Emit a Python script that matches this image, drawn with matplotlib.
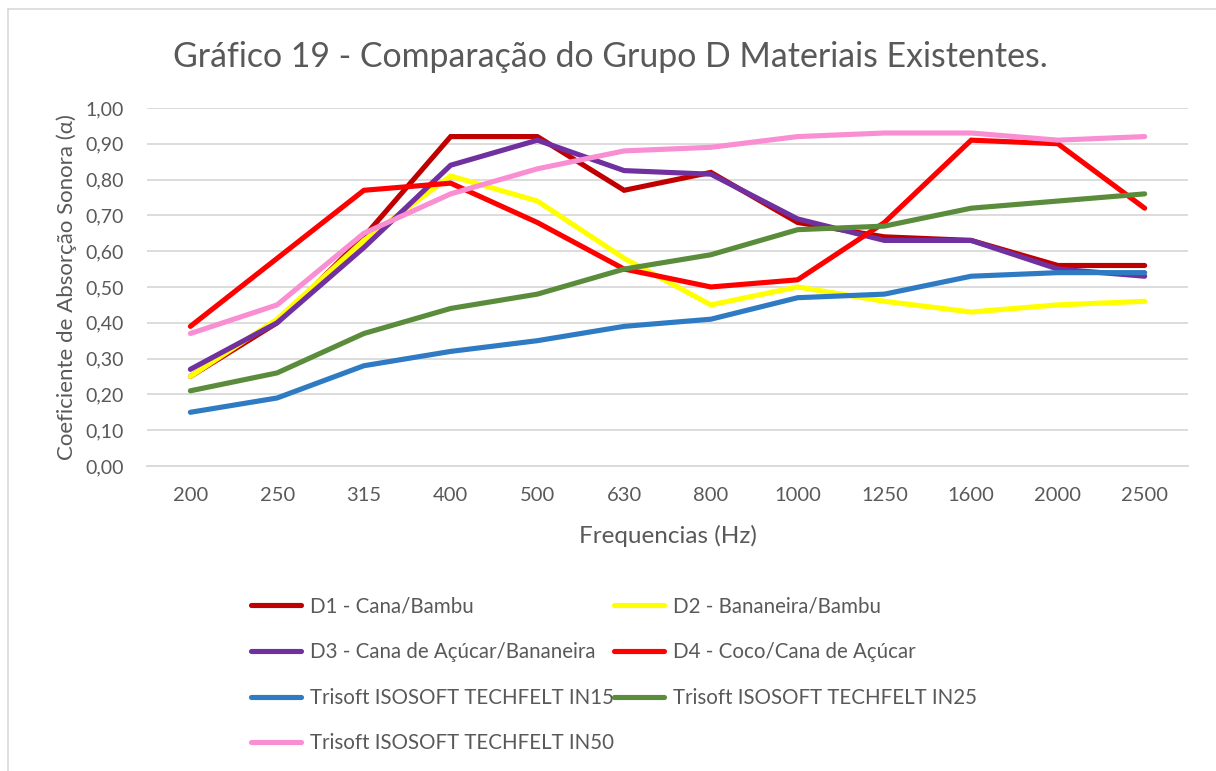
import matplotlib.pyplot as plt
from matplotlib.lines import Line2D

plt.rcParams['font.family'] = ['Lato', 'DejaVu Sans']

freqs = ['200', '250', '315', '400', '500', '630', '800', '1000', '1250', '1600', '2000', '2500']

d1 = [0.25, 0.40, 0.64, 0.92, 0.92, 0.77, 0.82, 0.68, 0.64, 0.63, 0.56, 0.56]
d2 = [0.25, 0.41, 0.63, 0.81, 0.74, 0.58, 0.45, 0.50, 0.46, 0.43, 0.45, 0.46]
d3 = [0.27, 0.40, 0.61, 0.84, 0.91, 0.825, 0.815, 0.69, 0.63, 0.63, 0.55, 0.53]
d4 = [0.39, 0.58, 0.77, 0.79, 0.68, 0.55, 0.50, 0.52, 0.68, 0.91, 0.90, 0.72]
in15 = [0.15, 0.19, 0.28, 0.32, 0.35, 0.39, 0.41, 0.47, 0.48, 0.53, 0.54, 0.54]
in25 = [0.21, 0.26, 0.37, 0.44, 0.48, 0.55, 0.59, 0.66, 0.67, 0.72, 0.74, 0.76]
in50 = [0.37, 0.45, 0.65, 0.76, 0.83, 0.88, 0.89, 0.92, 0.93, 0.93, 0.91, 0.92]

labels = ['D1 - Cana/Bambu', 'D2 - Bananeira/Bambu', 'D3 - Cana de Açúcar/Bananeira',
          'D4 - Coco/Cana de Açúcar', 'Trisoft ISOSOFT TECHFELT IN15',
          'Trisoft ISOSOFT TECHFELT IN25', 'Trisoft ISOSOFT TECHFELT IN50']
colors = ['#C00000', '#FFFF00', '#7030A0', '#FF0000', '#2E7BC4', '#5A8C3C', '#F98ED3']
series = [d1, d2, d3, d4, in15, in25, in50]

txt = '#595959'

fig = plt.figure(figsize=(12.16, 7.71), dpi=100)
ax = fig.add_axes([0.1209, 0.3956, 0.8561, 0.4644])

x = list(range(len(freqs)))
handles = []
for vals, col, lab in zip(series, colors, labels):
    h, = ax.plot(x, vals, color=col, lw=3.7, solid_capstyle='round',
                 solid_joinstyle='miter', label=lab)
    handles.append(h)

ax.set_xlim(-0.5, len(freqs) - 0.5)
ax.set_ylim(0, 1.0)
ax.set_yticks([i / 10 for i in range(11)])
ax.set_yticklabels([f'{i / 10:.2f}'.replace('.', ',') for i in range(11)])
ax.set_xticks(x)
ax.set_xticklabels(freqs)
ax.grid(axis='y', color='#D9D9D9', lw=1.3)
ax.set_axisbelow(True)
for s in ['top', 'right', 'left']:
    ax.spines[s].set_visible(False)
ax.spines['bottom'].set_color('#D9D9D9')
ax.spines['bottom'].set_linewidth(1.3)
ax.tick_params(length=0, labelsize=14.5, labelcolor=txt)
ax.tick_params(axis='x', pad=15)
ax.tick_params(axis='y', pad=17, labelsize=14)

ax.set_xlabel('Frequencias (Hz)', fontsize=17.5, color=txt, labelpad=15)
ax.set_ylabel('Coeficiente de Absorção Sonora (α)', fontsize=16, color=txt, labelpad=6)
fig.text(0.502, 0.926, 'Gráfico 19 - Comparação do Grupo D Materiais Existentes.',
         ha='center', va='center', fontsize=24.4, color=txt)

order = [0, 2, 4, 6, 1, 3, 5]
leg = fig.legend([handles[i] for i in order], [labels[i] for i in order],
                 ncol=2, loc='upper left', bbox_to_anchor=(0.2063, 0.2265),
                 frameon=False, fontsize=14.8, handlelength=2.43, handletextpad=0.45,
                 columnspacing=0.0, labelspacing=1.25, borderaxespad=0, borderpad=0)
for t in leg.get_texts():
    t.set_color(txt)

# chart frame: only left and top edges fall inside the picture
fig.add_artist(Line2D([8 / 1216, 8 / 1216], [0, 1 - 9 / 771], transform=fig.transFigure,
                      color='#D9D9D9', lw=1.2))
fig.add_artist(Line2D([8 / 1216, 1], [1 - 9 / 771, 1 - 9 / 771], transform=fig.transFigure,
                      color='#D9D9D9', lw=1.2))

fig.savefig('out.png', dpi=100)
